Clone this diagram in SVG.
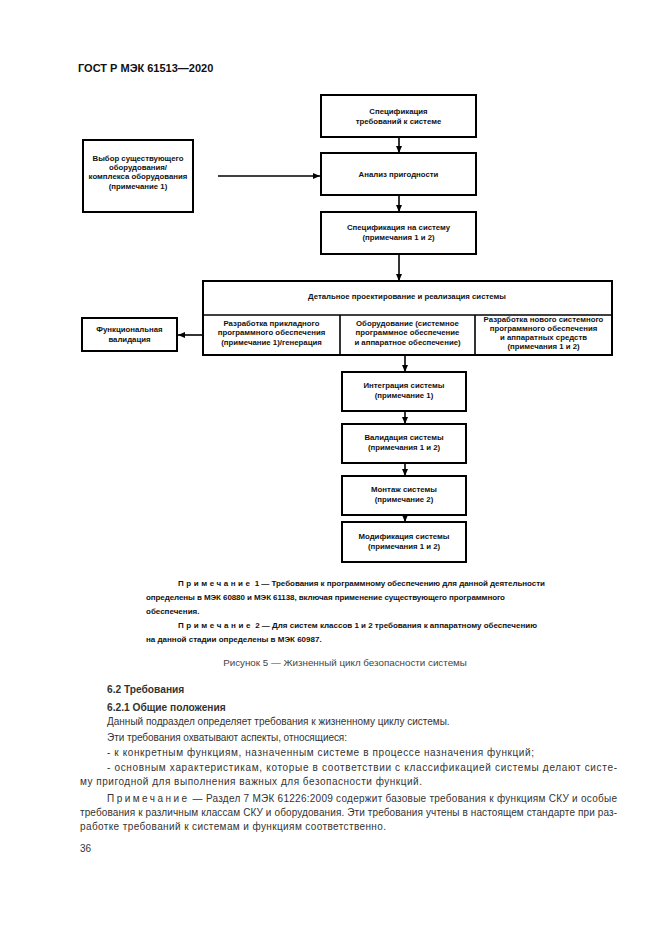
<svg xmlns="http://www.w3.org/2000/svg" width="661" height="935" viewBox="0 0 661 935">
<defs>
<style>
.bx{fill:#fff;stroke:#000;stroke-width:2}
.ln{fill:none;stroke:#000;stroke-width:1.6}
.t{font-family:"Liberation Sans",Arial,sans-serif;font-size:7.8px;font-weight:bold;fill:#111;text-anchor:middle}
.hd{font-family:"Liberation Sans",Arial,sans-serif;font-size:11px;font-weight:bold;fill:#111}
.nt{font-family:"Liberation Sans",Arial,sans-serif;font-size:8px;font-weight:bold;fill:#111}
.bd{font-family:"Liberation Sans",Arial,sans-serif;font-size:10px;fill:#333}
.bb{font-family:"Liberation Sans",Arial,sans-serif;font-size:10.2px;font-weight:bold;fill:#333}
.cp{font-family:"Liberation Sans",Arial,sans-serif;font-size:9.8px;fill:#444;text-anchor:middle}
</style>
<marker id="ah" markerUnits="userSpaceOnUse" markerWidth="8" markerHeight="8" refX="7" refY="4" orient="auto">
<path d="M0,1 L7,4 L0,7 Z" fill="#000"/>
</marker>
</defs>
<rect width="661" height="935" fill="#fff"/>
<text class="hd" x="78" y="72">ГОСТ Р МЭК 61513—2020</text>

<g id="connectors">
<line class="ln" x1="399" y1="137" x2="399" y2="153" marker-end="url(#ah)"/>
<line class="ln" x1="399" y1="195" x2="399" y2="212" marker-end="url(#ah)"/>
<line class="ln" x1="399" y1="254" x2="399" y2="281" marker-end="url(#ah)"/>
<line class="ln" x1="218" y1="176" x2="320" y2="176" marker-end="url(#ah)"/>
<line class="ln" x1="203" y1="335" x2="178" y2="335" marker-end="url(#ah)"/>
<line class="ln" x1="405" y1="355" x2="405" y2="372" marker-end="url(#ah)"/>
<line class="ln" x1="405" y1="411" x2="405" y2="424" marker-end="url(#ah)"/>
<line class="ln" x1="405" y1="463" x2="405" y2="476" marker-end="url(#ah)"/>
<line class="ln" x1="405" y1="515" x2="405" y2="522" marker-end="url(#ah)"/>
</g>

<g id="n-spec-req">
<rect class="bx" x="321" y="95" width="155" height="42"/>
<text class="t" x="398.5" y="114">Спецификация</text>
<text class="t" x="398.5" y="124">требований к системе</text>
</g>
<g id="n-analysis">
<rect class="bx" x="321" y="153" width="155" height="42"/>
<text class="t" x="398.5" y="177">Анализ пригодности</text>
</g>
<g id="n-spec-sys">
<rect class="bx" x="321" y="212" width="155" height="42"/>
<text class="t" x="398.5" y="230">Спецификация на систему</text>
<text class="t" x="398.5" y="240">(примечания 1 и 2)</text>
</g>
<g id="n-select">
<rect class="bx" x="83" y="140" width="110" height="72"/>
<text class="t" x="138" y="161">Выбор существующего</text>
<text class="t" x="138" y="170">оборудования/</text>
<text class="t" x="138" y="179">комплекса оборудования</text>
<text class="t" x="138" y="189">(примечание 1)</text>
</g>
<g id="n-detail">
<rect class="bx" x="203" y="281" width="409" height="74"/>
<line class="ln" x1="203" y1="315" x2="612" y2="315" stroke-width="2"/>
<line class="ln" x1="340" y1="315" x2="340" y2="355" stroke-width="2"/>
<line class="ln" x1="475" y1="315" x2="475" y2="355" stroke-width="2"/>
<text class="t" x="407" y="299" font-size="8.4">Детальное проектирование и реализация системы</text>
<text class="t" x="271.5" y="326">Разработка прикладного</text>
<text class="t" x="271.5" y="335">программного обеспечения</text>
<text class="t" x="271.5" y="345">(примечание 1)/генерация</text>
<text class="t" x="407.5" y="326">Оборудование (системное</text>
<text class="t" x="407.5" y="335">программное обеспечение</text>
<text class="t" x="407.5" y="345">и аппаратное обеспечение)</text>
<text class="t" x="543.5" y="322">Разработка нового системного</text>
<text class="t" x="543.5" y="331">программного обеспечения</text>
<text class="t" x="543.5" y="340">и аппаратных средств</text>
<text class="t" x="543.5" y="349">(примечания 1 и 2)</text>
</g>
<g id="n-funcval">
<rect class="bx" x="82" y="318" width="95" height="33"/>
<text class="t" x="129.5" y="332">Функциональная</text>
<text class="t" x="129.5" y="342">валидация</text>
</g>
<g id="n-integr">
<rect class="bx" x="342" y="372" width="124" height="39"/>
<text class="t" x="404" y="388">Интеграция системы</text>
<text class="t" x="404" y="398">(примечание 1)</text>
</g>
<g id="n-valid">
<rect class="bx" x="342" y="424" width="124" height="39"/>
<text class="t" x="404" y="440">Валидация системы</text>
<text class="t" x="404" y="450">(примечания 1 и 2)</text>
</g>
<g id="n-mount">
<rect class="bx" x="342" y="476" width="124" height="39"/>
<text class="t" x="404" y="492">Монтаж системы</text>
<text class="t" x="404" y="502">(примечание 2)</text>
</g>
<g id="n-modif">
<rect class="bx" x="342" y="522" width="124" height="40"/>
<text class="t" x="404" y="539">Модификация системы</text>
<text class="t" x="404" y="549">(примечания 1 и 2)</text>
</g>

<text class="nt" x="178" y="586" textLength="367" lengthAdjust="spacing"><tspan letter-spacing="2.6">Примечание</tspan> 1 — Требования к программному обеспечению для данной деятельности</text>
<text class="nt" x="146" y="600" textLength="359" lengthAdjust="spacing">определены в МЭК 60880 и МЭК 61138, включая применение существующего программного</text>
<text class="nt" x="146" y="614">обеспечения.</text>
<text class="nt" x="178" y="628" textLength="359" lengthAdjust="spacing"><tspan letter-spacing="2.6">Примечание</tspan> 2 — Для систем классов 1 и 2 требования к аппаратному обеспечению</text>
<text class="nt" x="146" y="642">на данной стадии определены в МЭК 60987.</text>

<text class="cp" x="345" y="666">Рисунок 5 — Жизненный цикл безопасности системы</text>

<text class="bb" x="107" y="693">6.2  Требования</text>
<text class="bb" x="107" y="711">6.2.1  Общие положения</text>
<text class="bd" x="107" y="725">Данный подраздел определяет требования к жизненному циклу системы.</text>
<text class="bd" x="107" y="741" textLength="240" lengthAdjust="spacing">Эти требования охватывают аспекты, относящиеся:</text>
<text class="bd" x="107" y="756" textLength="427" lengthAdjust="spacing">-  к конкретным функциям, назначенным системе в процессе назначения функций;</text>
<text class="bd" x="107" y="771" textLength="510" lengthAdjust="spacing">-  основным характеристикам, которые в соответствии с классификацией системы делают систе-</text>
<text class="bd" x="80" y="785" textLength="342" lengthAdjust="spacing">му пригодной для выполнения важных для безопасности функций.</text>
<text class="bd" x="107" y="802" textLength="510" lengthAdjust="spacing"><tspan letter-spacing="2.2">Примечание</tspan> — Раздел 7 МЭК 61226:2009 содержит базовые требования к функциям СКУ и особые</text>
<text class="bd" x="80" y="816" textLength="537" lengthAdjust="spacing">требования к различным классам СКУ и оборудования. Эти требования учтены в настоящем стандарте при раз-</text>
<text class="bd" x="80" y="830" textLength="306" lengthAdjust="spacing">работке требований к системам и функциям соответственно.</text>
<text class="bd" x="80" y="852">36</text>
</svg>
